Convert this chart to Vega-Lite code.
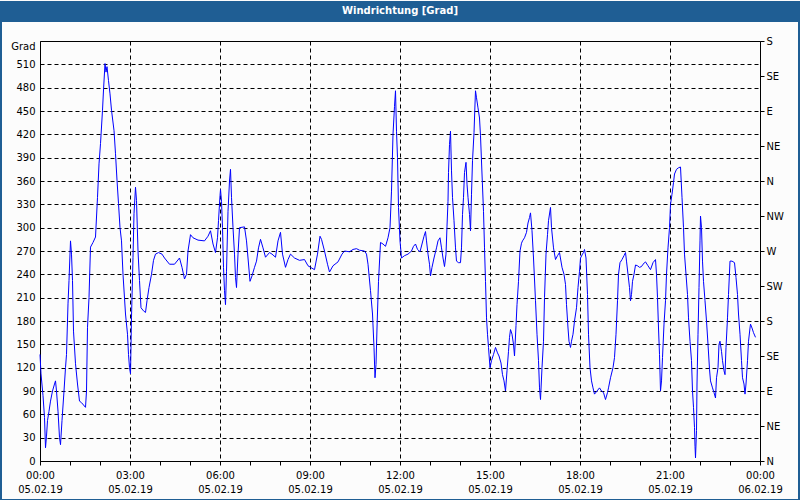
{
  "$schema": "https://vega.github.io/schema/vega-lite/v6.json",
  "width": 720,
  "height": 420,
  "padding": 0,
  "autosize": {"type": "pad"},
  "background": "#fcfcfc",
  "config": {
    "view": {"stroke": "black", "strokeWidth": 1},
    "font": "DejaVu Sans",
    "axis": {"labelFont": "DejaVu Sans", "labelFontSize": 10, "labelColor": "black", "domainColor": "black", "tickColor": "black", "title": null}
  },
  "datasets": {
    "wind": [
      {"t":0,"v":137},{"t":2,"v":112},{"t":6,"v":84},{"t":9,"v":56},{"t":11,"v":17},{"t":13,"v":32},{"t":15,"v":52},{"t":18,"v":64},{"t":21,"v":77},{"t":25,"v":90},{"t":29,"v":99},{"t":31,"v":103},{"t":33,"v":90},{"t":36,"v":64},{"t":39,"v":30},{"t":41,"v":21},{"t":44,"v":52},{"t":48,"v":90},{"t":51,"v":120},{"t":53,"v":137},{"t":56,"v":202},{"t":58,"v":232},{"t":61,"v":283},{"t":63,"v":266},{"t":65,"v":232},{"t":67,"v":167},{"t":71,"v":125},{"t":75,"v":99},{"t":79,"v":77},{"t":83,"v":75},{"t":91,"v":69},{"t":93,"v":90},{"t":95,"v":172},{"t":98,"v":210},{"t":101,"v":275},{"t":106,"v":281},{"t":111,"v":288},{"t":115,"v":339},{"t":118,"v":382},{"t":121,"v":408},{"t":125,"v":451},{"t":127,"v":477},{"t":130,"v":511},{"t":132,"v":500},{"t":134,"v":507},{"t":137,"v":489},{"t":140,"v":472},{"t":143,"v":451},{"t":148,"v":425},{"t":151,"v":395},{"t":154,"v":361},{"t":157,"v":331},{"t":160,"v":300},{"t":163,"v":283},{"t":166,"v":240},{"t":171,"v":189},{"t":175,"v":163},{"t":177,"v":137},{"t":179,"v":120},{"t":181,"v":112},{"t":183,"v":185},{"t":186,"v":262},{"t":188,"v":318},{"t":191,"v":352},{"t":193,"v":335},{"t":196,"v":270},{"t":199,"v":232},{"t":202,"v":197},{"t":207,"v":193},{"t":211,"v":191},{"t":214,"v":206},{"t":218,"v":223},{"t":223,"v":240},{"t":227,"v":258},{"t":231,"v":266},{"t":237,"v":268},{"t":244,"v":266},
      {"t":249,"v":261},{"t":259,"v":253},{"t":269,"v":253},{"t":279,"v":261},{"t":284,"v":249},{"t":289,"v":234},{"t":293,"v":240},{"t":296,"v":270},{"t":301,"v":291},{"t":306,"v":287},{"t":316,"v":284},{"t":329,"v":283},{"t":336,"v":289},{"t":341,"v":296},{"t":346,"v":279},{"t":351,"v":268},{"t":355,"v":287},{"t":357,"v":309},{"t":360,"v":341},{"t":361,"v":349},{"t":363,"v":334},{"t":365,"v":300},{"t":367,"v":249},{"t":369,"v":219},{"t":371,"v":201},{"t":373,"v":244},{"t":376,"v":321},{"t":379,"v":360},{"t":381,"v":375},{"t":383,"v":339},{"t":386,"v":300},{"t":389,"v":266},{"t":391,"v":236},{"t":393,"v":223},{"t":396,"v":266},{"t":399,"v":300},{"t":409,"v":301},{"t":413,"v":283},{"t":416,"v":261},{"t":420,"v":231},{"t":424,"v":238},{"t":429,"v":249},{"t":433,"v":257},{"t":437,"v":274},{"t":441,"v":285},{"t":446,"v":274},{"t":451,"v":262},{"t":459,"v":268},{"t":464,"v":266},{"t":471,"v":262},{"t":476,"v":283},{"t":481,"v":294},
      {"t":485,"v":266},{"t":491,"v":249},{"t":496,"v":259},{"t":501,"v":266},{"t":509,"v":261},{"t":519,"v":258},{"t":529,"v":259},{"t":536,"v":251},{"t":541,"v":249},{"t":549,"v":246},{"t":555,"v":266},{"t":560,"v":289},{"t":563,"v":285},{"t":569,"v":270},{"t":575,"v":253},{"t":579,"v":243},{"t":586,"v":251},{"t":596,"v":256},{"t":604,"v":266},{"t":609,"v":270},{"t":619,"v":269},{"t":626,"v":272},{"t":633,"v":273},{"t":639,"v":271},{"t":649,"v":270},{"t":653,"v":266},{"t":656,"v":253},{"t":661,"v":219},{"t":665,"v":189},{"t":668,"v":146},{"t":670,"v":107},{"t":672,"v":124},{"t":674,"v":171},{"t":677,"v":231},{"t":681,"v":281},{"t":686,"v":279},{"t":691,"v":276},{"t":696,"v":287},{"t":700,"v":300},{"t":703,"v":347},{"t":706,"v":420},{"t":709,"v":456},{"t":711,"v":476},{"t":713,"v":424},{"t":715,"v":390},{"t":717,"v":326},{"t":720,"v":283},{"t":723,"v":261},
      {"t":729,"v":264},{"t":736,"v":266},{"t":743,"v":270},{"t":747,"v":276},{"t":751,"v":279},{"t":755,"v":272},{"t":760,"v":269},{"t":764,"v":279},{"t":768,"v":289},{"t":771,"v":295},{"t":773,"v":283},{"t":776,"v":266},{"t":779,"v":253},{"t":781,"v":238},{"t":784,"v":249},{"t":788,"v":261},{"t":793,"v":274},{"t":796,"v":283},{"t":800,"v":287},{"t":803,"v":274},{"t":806,"v":261},{"t":809,"v":250},{"t":812,"v":266},{"t":814,"v":302},{"t":816,"v":334},{"t":817,"v":371},{"t":819,"v":407},{"t":821,"v":424},{"t":823,"v":373},{"t":825,"v":339},{"t":828,"v":309},{"t":831,"v":274},{"t":833,"v":257},{"t":837,"v":255},{"t":841,"v":255},{"t":843,"v":274},{"t":845,"v":317},{"t":847,"v":339},{"t":849,"v":371},{"t":852,"v":384},{"t":854,"v":356},{"t":856,"v":339},{"t":859,"v":317},{"t":861,"v":296},{"t":863,"v":343},{"t":865,"v":386},{"t":868,"v":422},{"t":870,"v":459},{"t":871,"v":476},{"t":873,"v":467},{"t":876,"v":454},{"t":879,"v":441},{"t":881,"v":418},{"t":884,"v":369},{"t":887,"v":321},{"t":889,"v":274},{"t":891,"v":231},{"t":893,"v":184},{"t":895,"v":163},{"t":897,"v":146},{"t":900,"v":120},{"t":903,"v":129},{"t":907,"v":137},{"t":911,"v":146},{"t":915,"v":139},{"t":918,"v":135},{"t":922,"v":126},{"t":925,"v":111},{"t":928,"v":103},{"t":931,"v":90},{"t":934,"v":116},{"t":937,"v":141},{"t":939,"v":159},{"t":941,"v":169},{"t":944,"v":163},{"t":947,"v":150},{"t":949,"v":135},{"t":952,"v":174},{"t":954,"v":201},{"t":957,"v":231},{"t":960,"v":270},{"t":963,"v":280},
      {"t":965,"v":283},{"t":969,"v":287},{"t":973,"v":294},{"t":976,"v":306},{"t":979,"v":313},{"t":981,"v":319},{"t":984,"v":296},{"t":987,"v":261},{"t":991,"v":206},{"t":994,"v":163},{"t":997,"v":129},{"t":999,"v":94},{"t":1001,"v":79},{"t":1004,"v":120},{"t":1007,"v":154},{"t":1009,"v":210},{"t":1012,"v":266},{"t":1015,"v":291},{"t":1017,"v":309},{"t":1021,"v":326},{"t":1023,"v":300},{"t":1027,"v":274},{"t":1031,"v":259},{"t":1035,"v":264},{"t":1039,"v":268},{"t":1044,"v":249},{"t":1048,"v":240},{"t":1051,"v":227},{"t":1053,"v":201},{"t":1056,"v":171},{"t":1058,"v":154},{"t":1061,"v":146},{"t":1063,"v":154},{"t":1066,"v":163},{"t":1069,"v":180},{"t":1073,"v":197},{"t":1076,"v":223},{"t":1079,"v":244},{"t":1081,"v":261},{"t":1085,"v":266},{"t":1087,"v":268},{"t":1089,"v":272},{"t":1092,"v":261},{"t":1095,"v":214},{"t":1097,"v":163},{"t":1100,"v":120},{"t":1103,"v":103},{"t":1106,"v":94},{"t":1109,"v":86},{"t":1114,"v":90},{"t":1119,"v":94},{"t":1123,"v":90},{"t":1127,"v":88},{"t":1131,"v":79},{"t":1135,"v":88},{"t":1137,"v":94},{"t":1141,"v":107},{"t":1146,"v":120},{"t":1149,"v":133},{"t":1152,"v":163},{"t":1155,"v":206},{"t":1157,"v":240},{"t":1160,"v":255},{"t":1164,"v":259},{"t":1168,"v":264},{"t":1171,"v":268},{"t":1173,"v":257},{"t":1176,"v":240},{"t":1179,"v":223},{"t":1181,"v":206},{"t":1183,"v":214},{"t":1185,"v":231},{"t":1188,"v":240},{"t":1191,"v":252},{"t":1195,"v":251},{"t":1199,"v":249},{"t":1203,"v":250},
      {"t":1206,"v":253},{"t":1211,"v":256},{"t":1216,"v":251},{"t":1221,"v":246},{"t":1226,"v":255},{"t":1231,"v":259},{"t":1233,"v":240},{"t":1235,"v":210},{"t":1237,"v":171},{"t":1239,"v":137},{"t":1241,"v":90},{"t":1243,"v":103},{"t":1245,"v":133},{"t":1248,"v":176},{"t":1251,"v":206},{"t":1253,"v":240},{"t":1256,"v":274},{"t":1259,"v":300},{"t":1261,"v":330},{"t":1264,"v":343},{"t":1267,"v":358},{"t":1269,"v":369},{"t":1273,"v":375},{"t":1277,"v":377},{"t":1281,"v":378},{"t":1284,"v":339},{"t":1287,"v":300},{"t":1289,"v":266},{"t":1292,"v":240},{"t":1295,"v":214},{"t":1297,"v":184},{"t":1300,"v":154},{"t":1303,"v":129},{"t":1305,"v":90},{"t":1307,"v":69},{"t":1309,"v":43},{"t":1310,"v":19},{"t":1311,"v":4},{"t":1313,"v":39},{"t":1314,"v":99},{"t":1316,"v":163},{"t":1318,"v":223},{"t":1320,"v":283},{"t":1321,"v":315},{"t":1323,"v":300},{"t":1325,"v":257},{"t":1327,"v":231},{"t":1330,"v":206},{"t":1333,"v":180},{"t":1336,"v":150},{"t":1339,"v":118},{"t":1341,"v":103},{"t":1345,"v":94},{"t":1348,"v":88},{"t":1351,"v":81},{"t":1353,"v":107},{"t":1356,"v":120},{"t":1358,"v":150},{"t":1360,"v":154},{"t":1363,"v":141},{"t":1365,"v":129},{"t":1368,"v":116},{"t":1370,"v":111},{"t":1372,"v":146},{"t":1375,"v":184},{"t":1377,"v":214},{"t":1380,"v":257},{"t":1384,"v":257},{"t":1389,"v":255},{"t":1392,"v":236},{"t":1395,"v":214},{"t":1397,"v":189},{"t":1400,"v":163},{"t":1403,"v":129},{"t":1405,"v":107},{"t":1408,"v":99},{"t":1410,"v":86},{"t":1412,"v":99},{"t":1415,"v":129},{"t":1417,"v":154},{"t":1420,"v":171},{"t":1421,"v":176},{"t":1424,"v":171},{"t":1427,"v":165},{"t":1431,"v":159}
    ]
  },
  "layer": [
    {
      "data": {"values": [{}]},
      "mark": {"type": "rect", "fill": "#1f5e94", "stroke": null},
      "encoding": {
        "x": {"datum": -80, "type": "quantitative", "scale": {"domain": [0, 1440], "nice": false, "zero": false}, "axis": null},
        "x2": {"datum": 1520},
        "y": {"datum": 591.43, "type": "quantitative", "scale": {"domain": [0, 540], "nice": false, "zero": false}, "axis": null},
        "y2": {"datum": 564.43}
      }
    },
    {
      "data": {"values": [{}]},
      "mark": {"type": "rect", "filled": false, "stroke": "#1f5e94", "strokeWidth": 2},
      "encoding": {
        "x": {"datum": -78, "type": "quantitative", "scale": {"domain": [0, 1440], "nice": false, "zero": false}, "axis": null},
        "x2": {"datum": 1518},
        "y": {"datum": 590.14, "type": "quantitative", "scale": {"domain": [0, 540], "nice": false, "zero": false}, "axis": null},
        "y2": {"datum": -50.14}
      }
    },
    {
      "data": {"values": [{}]},
      "mark": {"type": "text", "text": "Windrichtung [Grad]", "color": "white", "font": "DejaVu Sans", "fontSize": 10, "fontWeight": "bold", "align": "center", "baseline": "middle"},
      "encoding": {
        "x": {"datum": 720, "type": "quantitative", "scale": {"domain": [0, 1440], "nice": false, "zero": false}, "axis": null},
        "y": {"datum": 578.6, "type": "quantitative", "scale": {"domain": [0, 540], "nice": false, "zero": false}, "axis": null}
      }
    },
    {
      "data": {"name": "wind"},
      "mark": {"type": "line", "color": "#0000ff", "strokeWidth": 1},
      "encoding": {
        "x": {
          "field": "t", "type": "quantitative",
          "scale": {"domain": [0, 1440], "nice": false, "zero": false},
          "axis": {
            "values": [0,60,120,180,240,300,360,420,480,540,600,660,720,780,840,900,960,1020,1080,1140,1200,1260,1320,1380,1440],
            "labelExpr": "datum.value % 180 == 0 ? [(floor(datum.value/60) % 24 < 10 ? '0' : '') + (floor(datum.value/60) % 24) + ':00', datum.value == 1440 ? '06.02.19' : '05.02.19'] : ''",
            "tickSize": 4,
            "labelPadding": 5,
            "labelLineHeight": 14,
            "labelOverlap": false,
            "labelFlush": false,
            "grid": true,
            "gridColor": "black",
            "gridDash": [4, 3],
            "gridOpacity": {"condition": {"test": "datum.value % 180 == 0 && datum.value > 0 && datum.value < 1440", "value": 1}, "value": 0}
          }
        },
        "y": {
          "field": "v", "type": "quantitative",
          "scale": {"domain": [0, 540], "nice": false, "zero": false},
          "axis": {
            "orient": "left",
            "values": [0,30,60,90,120,150,180,210,240,270,300,330,360,390,420,450,480,510,540],
            "labelExpr": "datum.value == 540 ? 'Grad' : datum.label",
            "labelBaseline": {"condition": {"test": "datum.value == 540", "value": "top"}, "value": "middle"},
            "ticks": false,
            "labelPadding": 5,
            "grid": true,
            "gridColor": "black",
            "gridDash": [4, 3],
            "gridOpacity": {"condition": {"test": "datum.value > 0 && datum.value < 540", "value": 1}, "value": 0}
          }
        }
      }
    },
    {
      "data": {"name": "wind"},
      "mark": {"type": "line", "opacity": 0},
      "encoding": {
        "x": {"field": "t", "type": "quantitative", "scale": {"domain": [0, 1440], "nice": false, "zero": false}, "axis": null},
        "y": {
          "field": "v", "type": "quantitative",
          "scale": {"domain": [0, 540], "nice": false, "zero": false},
          "axis": {
            "orient": "right",
            "values": [0,45,90,135,180,225,270,315,360,405,450,495,540],
            "labelExpr": "['N','NE','E','SE','S','SW','W','NW','N','NE','E','SE','S'][round(datum.value/45)]",
            "tickSize": 4,
            "labelPadding": 2,
            "grid": false
          }
        }
      }
    }
  ],
  "resolve": {"axis": {"x": "independent", "y": "independent"}}
}
